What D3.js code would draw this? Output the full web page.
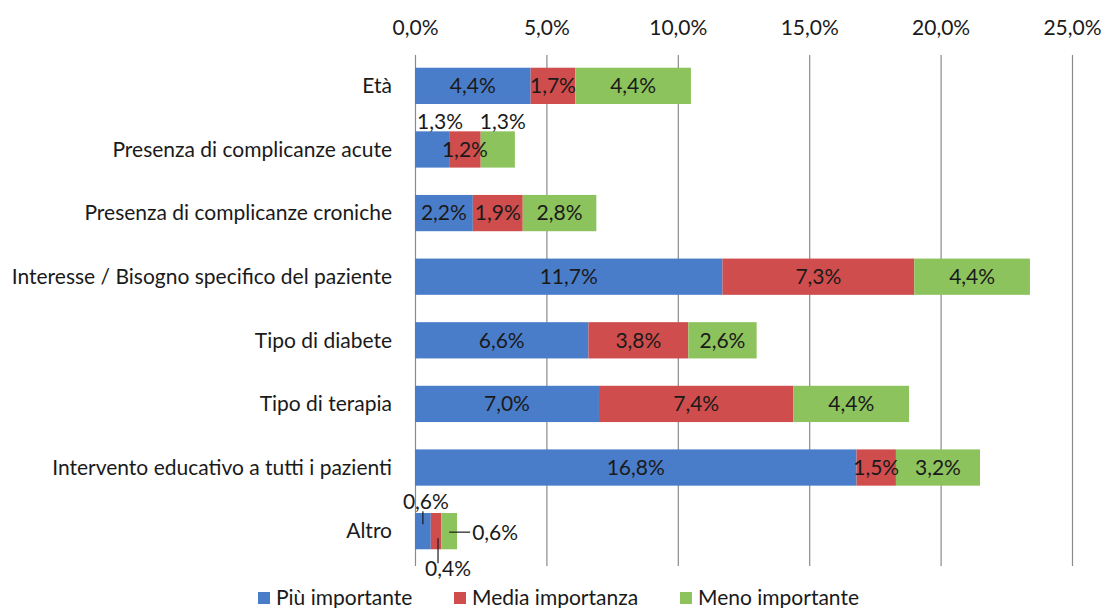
<!DOCTYPE html>
<html>
<head>
<meta charset="utf-8">
<script src="https://cdn.jsdelivr.net/npm/d3@7"></script>
<style>
  body { margin: 0; background: #fff; }
  text { font-family: Lato, "Open Sans", sans-serif; fill: #1a1a1a; }
</style>
</head>
<body>
<script>
// chart values
var categories = ["Età", "Presenza di complicanze acute", "Presenza di complicanze croniche",
  "Interesse / Bisogno specifico del paziente", "Tipo di diabete", "Tipo di terapia",
  "Intervento educativo a tutti i pazienti", "Altro"];
var piuImportante = [4.4, 1.3, 2.2, 11.7, 6.6, 7.0, 16.8, 0.6];
var mediaImportanza = [1.7, 1.2, 1.9, 7.3, 3.8, 7.4, 1.5, 0.4];
var menoImportante = [4.4, 1.3, 2.8, 4.4, 2.6, 4.4, 3.2, 0.6];
var seriesNames = ["Più importante", "Media importanza", "Meno importante"];
var xTicks = [0, 5, 10, 15, 20, 25];

var colors = ["#4a7dc9", "#cf4d4d", "#8dc35c"];

var svgWidth = 1105, svgHeight = 608;
var margin = {top: 55, right: 33, bottom: 46, left: 415};
var fontSize = 21;

var svg = d3.select("body").append("svg")
  .attr("width", svgWidth)
  .attr("height", svgHeight);

var x = d3.scaleLinear().domain([0, 25]).range([margin.left, svgWidth - margin.right]);
var y = d3.scaleBand().domain(categories)
  .range([margin.top, svgHeight - margin.bottom])
  .paddingInner(0.43).paddingOuter(0.2);

var fmt = function(v) { return d3.format(".1f")(v).replace(".", ",") + "%"; };

// gridlines + top axis
var xAxis = d3.axisTop(x).tickValues(xTicks).tickFormat(fmt)
  .tickSize(-(svgHeight - margin.bottom - margin.top + 4)).tickPadding(20);
var gx = svg.append("g")
  .attr("transform", "translate(0," + margin.top + ")")
  .call(xAxis);
gx.select(".domain").remove();
gx.selectAll(".tick line").attr("stroke", "#8a8a8a").attr("stroke-width", 1.2);
gx.selectAll(".tick text").attr("font-size", fontSize).attr("fill", "#1a1a1a")
  .attr("font-family", "Lato, sans-serif");

// stacked bars
var rows = categories.map(function(c, i) {
  return {cat: c, v: [piuImportante[i], mediaImportanza[i], menoImportante[i]]};
});
var stack = d3.stack().keys([0, 1, 2]).value(function(d, k) { return d.v[k]; });
var series = stack(rows);

var layers = svg.selectAll(".layer").data(series).enter().append("g")
  .attr("fill", function(d, i) { return colors[i]; });
layers.selectAll("rect").data(function(d) { return d; }).enter().append("rect")
  .attr("x", function(d) { return x(d[0]); })
  .attr("y", function(d) { return y(d.data.cat); })
  .attr("width", function(d) { return x(d[1]) - x(d[0]); })
  .attr("height", y.bandwidth());

// category labels
svg.append("g").selectAll("text").data(categories).enter().append("text")
  .attr("x", margin.left - 23)
  .attr("y", function(d) { return y(d) + y.bandwidth() / 2; })
  .attr("dy", "0.35em")
  .attr("text-anchor", "end")
  .attr("font-size", fontSize)
  .text(function(d) { return d; });

// data labels; small segments get moved out
var moved = {
  "1-0": {dx: 8, dy: -28},
  "1-2": {dx: 5, dy: -28},
  "7-0": {dx: 3, dy: -29, lead: [[0, -20], [0, -7]]},
  "7-1": {dx: 12, dy: 38, lead: [[2, 7], [2, 32]]},
  "7-2": {dx: 46, dy: 2, lead: [[0, 1], [21, 1]]}
};
var labels = svg.append("g");
series.forEach(function(s, k) {
  s.forEach(function(d, i) {
    var cx = (x(d[0]) + x(d[1])) / 2;
    var cy = y(d.data.cat) + y.bandwidth() / 2;
    var m = moved[i + "-" + k] || {dx: 0, dy: 0};
    if (m.lead) {
      labels.append("line")
        .attr("x1", cx + m.lead[0][0]).attr("y1", cy + m.lead[0][1])
        .attr("x2", cx + m.lead[1][0]).attr("y2", cy + m.lead[1][1])
        .attr("stroke", "#1a1a1a").attr("stroke-width", 1.2);
    }
    labels.append("text")
      .attr("x", cx + m.dx)
      .attr("y", cy + m.dy)
      .attr("dy", "0.35em")
      .attr("text-anchor", "middle")
      .attr("font-size", fontSize)
      .text(fmt(d.data.v[k]));
  });
});

// legend
var legendX = [258, 454, 680];
var legend = svg.append("g").selectAll("g").data(seriesNames).enter().append("g")
  .attr("transform", function(d, i) { return "translate(" + legendX[i] + ",598)"; });
legend.append("rect").attr("x", 0).attr("y", -6).attr("width", 12).attr("height", 12)
  .attr("fill", function(d, i) { return colors[i]; });
legend.append("text").attr("x", 18).attr("dy", "0.35em").attr("font-size", fontSize)
  .text(function(d) { return d; });
</script>
</body>
</html>
